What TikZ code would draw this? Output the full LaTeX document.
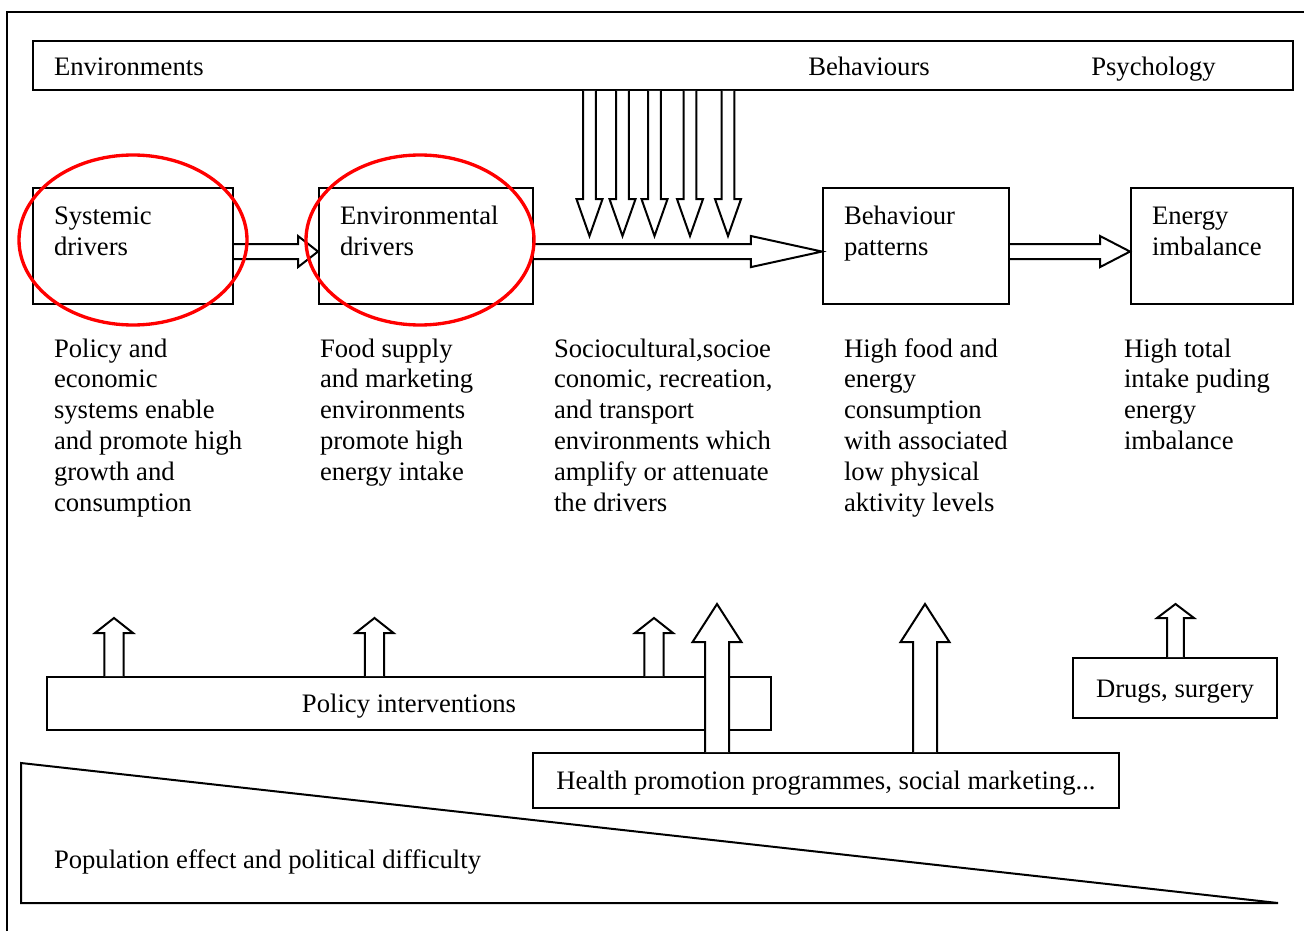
\documentclass[tikz,border=0pt]{standalone}
\usepackage{fontspec}
\setmainfont{Liberation Serif}
\usetikzlibrary{calc}

\tikzset{
  box/.style={draw, inner sep=0pt, fill=white, text height=8.2pt, text depth=0pt},
  txt/.style={inner sep=0pt, align=left, anchor=base west},
  blockarrow/.style={draw, fill=white, line join=miter},
  driver/.style={draw=red, line width=1.5pt}
}

\begin{document}
\begin{tikzpicture}[x=0.45pt, y=-0.45pt, line width=0.9pt,
  every node/.style={font=\fontsize{12}{13.9}\selectfont}]
\useasboundingbox (0,0) rectangle (1304,931);

% outer frame
\draw (7,931) -- (7,12) -- (1304,12);

% top bar
\node[box, minimum width=567pt, minimum height=22.05pt] (top) at (663,65.5) {};
\node[txt] (tEnv) at (53,76) {Environments};
\node[txt, anchor=base] (tBeh) at (869,76) {Behaviours};
\node[txt, anchor=base] (tPsy) at (1153.5,76) {Psychology};

% main chain of boxes (multi-line labels are placed by their last baseline)
\node[box, minimum width=90pt, minimum height=52.2pt] (sys) at (133,246) {};
\node[box, minimum width=96.3pt, minimum height=52.2pt] (env) at (426,246) {};
\node[box, minimum width=83.7pt, minimum height=52.2pt] (beh) at (916,246) {};
\node[box, minimum width=72.9pt, minimum height=52.2pt] (ene) at (1212,246) {};
\node[txt] (sysT) at (53,255) {Systemic\\drivers};
\node[txt] (envT) at (339,255) {Environmental\\drivers};
\node[txt] (behT) at (843,255) {Behaviour\\patterns};
\node[txt] (eneT) at (1151,255) {Energy\\imbalance};

% horizontal block arrows: shaft from one box, tip on the next
\foreach \a/\b/\hl in {sys/env/9pt, env/beh/32pt, beh/ene/13.5pt}
  \draw[blockarrow] let \p1=([yshift=-2.5pt]\a.east), \p2=([yshift=-2.5pt]\b.west) in
    (\x1,\y1+3.4pt) -- (\x2-\hl,\y1+3.4pt) -- (\x2-\hl,\y1+7pt) -- (\x2,\y1)
    -- (\x2-\hl,\y1-7pt) -- (\x2-\hl,\y1-3.4pt) -- (\x1,\y1-3.4pt);

% downward arrows from the top bar
\coordinate (d1) at (589.5,236);
\coordinate (d2) at (622.5,236);
\coordinate (d3) at (654.5,236);
\coordinate (d4) at (690,236);
\coordinate (d5) at (728,236);
\foreach \d in {d1,d2,d3,d4,d5}
  \draw[blockarrow] let \p1=(top.south), \p2=(\d) in
    (\x2-2.9pt,\y1) -- (\x2-2.9pt,\y2+16.6pt) -- (\x2-5.85pt,\y2+16.6pt) -- (\x2,\y2)
    -- (\x2+5.85pt,\y2+16.6pt) -- (\x2+2.9pt,\y2+16.6pt) -- (\x2+2.9pt,\y1);

% highlighted drivers
\draw[driver] (133,240) ellipse [x radius=51.3pt, y radius=38.25pt];
\draw[driver] (420,240) ellipse [x radius=51.3pt, y radius=38.25pt];

% descriptions
\node[txt] (c1) at (53,511.5) {Policy and\\economic\\systems enable\\and promote high\\growth and\\consumption};
\node[txt] (c2) at (319,480.6) {Food supply\\and marketing\\environments\\promote high\\energy intake};
\node[txt] (c3) at (553,511.5) {Sociocultural,socioe\\conomic, recreation,\\and transport\\environments which\\amplify or attenuate\\the drivers};
\node[txt] (c4) at (843,511.5) {High food and\\energy\\consumption\\with associated\\low physical\\aktivity levels};
\node[txt] (c5) at (1123,449.7) {High total\\intake puding\\energy\\imbalance};

% interventions
\node[box, minimum width=325.8pt, minimum height=23.85pt] (policy) at (409,703.5) {Policy interventions};
\node[box, minimum width=263.7pt, minimum height=24.75pt] (health) at (826,780.5) {Health promotion programmes, social marketing...};
\node[box, minimum width=91.8pt, minimum height=27pt] (drugs) at (1175,688) {Drugs, surgery};

\coordinate (u1) at (114,618);
\coordinate (u2) at (374.5,618);
\coordinate (u3) at (654,618);
\coordinate (u4) at (717,604);
\coordinate (u5) at (925,604);
\coordinate (u6) at (1175.5,604);
% upward arrows: source box / tip / half shaft / half head / head length
\foreach \s/\t/\hs/\hh/\hl in {policy/u1/4.3pt/8.55pt/6.75pt, policy/u2/4.3pt/8.55pt/6.75pt,
    policy/u3/4.3pt/8.55pt/6.75pt, health/u4/5.4pt/11pt/17.1pt, health/u5/5.4pt/11pt/17.1pt,
    drugs/u6/3.8pt/8.3pt/6.3pt}
  \draw[blockarrow] let \p1=(\s.north), \p2=(\t) in
    (\x2-\hs,\y1) -- (\x2-\hs,\y2-\hl) -- (\x2-\hh,\y2-\hl) -- (\x2,\y2)
    -- (\x2+\hh,\y2-\hl) -- (\x2+\hs,\y2-\hl) -- (\x2+\hs,\y1);

% wedge
\draw (21,763) -- (21,903) -- (1278,903) -- cycle;
\node[txt] (pop) at (53,868) {Population effect and political difficulty};
\end{tikzpicture}
\end{document}
